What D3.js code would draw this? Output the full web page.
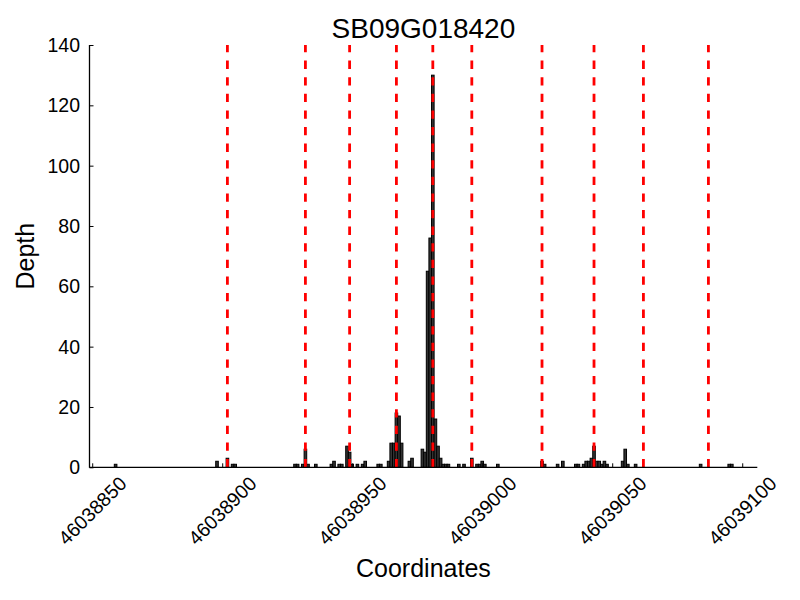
<html>
<script src='https://d3js.org/d3.v7.min.js'></script>
<style> body {margin:0;} text {font-family: "Liberation Sans", Arial, sans-serif;} </style>
<body>
<svg width=800 height=600>
</svg>
<script>
var coords = [46038859,46038898,46038902,46038904,46038905,46038928,46038929,46038931,46038932,46038933,
	46038936,46038942,46038943,46038945,46038946,46038948,46038949,46038950,46038952,46038954,
	46038955,46038960,46038961,46038964,46038965,46038966,46038967,46038968,46038969,46038972,
	46038973,46038977,46038978,46038979,46038980,46038981,46038982,46038983,46038984,46038985,
	46038986,46038987,46038991,46038993,46038996,46038998,46038999,46039000,46039001,46039006,
	46039023,46039024,46039029,46039031,46039036,46039037,46039039,46039040,46039041,46039042,
	46039043,46039044,46039045,46039046,46039047,46039048,46039054,46039055,46039056,46039059,
	46039084,46039095,46039096];
var depth = [1,2,3,1,1,1,1,1,6,1,
	1,1,2,1,1,7,5,1,1,1,
	2,1,1,2,8,8,18,17,8,2,
	3,6,5,65,76,130,16,7,3,1,
	1,1,1,1,3,1,1,2,1,1,
	2,1,1,2,1,1,1,2,2,3,
	7,2,2,1,2,1,2,6,1,1,
	1,1,1];
var markers = [46038902,46038932,46038949,46038967,46038981,46038996,46039023,46039043,46039062,46039087];
var xTicks = [46038850,46038900,46038950,46039000,46039050,46039100];
var yTicks = [0,20,40,60,80,100,120,140];

var plotL = 89.5, plotR = 757.3, plotT = 45, plotB = 467.3;
var x = d3.scaleLinear().domain([46038848.96, 46039105.8]).range([plotL, plotR]);
var y = d3.scaleLinear().domain([0, 140]).range([plotB, plotT]);
var svg = d3.select("svg");

// bars, centered on each coordinate
svg.append("g").selectAll("rect").data(coords).enter().append("rect")
	.attr("x", function(d){return x(d - 0.5);})
	.attr("width", function(d){return x(d + 0.5) - x(d - 0.5);})
	.attr("y", function(d, i){return y(depth[i]);})
	.attr("height", function(d, i){return plotB - y(depth[i]);})
	.attr("fill", "#333").attr("stroke", "#000").attr("stroke-width", 1);

// red dashed lines on top, dash pattern starts at the bottom
svg.append("g").selectAll("line").data(markers).enter().append("line")
	.attr("x1", function(d){return x(d);}).attr("x2", function(d){return x(d);})
	.attr("y1", plotB).attr("y2", plotT)
	.attr("stroke", "red").attr("stroke-width", 2.8).attr("stroke-dasharray", "8.3,8.3");

// axes: ticks point inward
var yAxis = d3.axisRight(y).tickValues(yTicks).tickSize(4).tickFormat("");
svg.append("g").attr("transform", "translate(" + plotL + ",0)").call(yAxis)
	.call(function(g){g.select(".domain").remove();});
var xAxis = d3.axisTop(x).tickValues(xTicks).tickSize(4).tickFormat("");
svg.append("g").attr("transform", "translate(0," + plotB + ")").call(xAxis)
	.call(function(g){g.select(".domain").remove();});
svg.selectAll(".tick line").attr("stroke", "#000").attr("stroke-width", 1);

svg.append("line").attr("x1", plotL).attr("x2", plotL).attr("y1", plotT).attr("y2", plotB + 0.5)
	.attr("stroke", "#000").attr("stroke-width", 1.3);
svg.append("line").attr("x1", plotL).attr("x2", plotR).attr("y1", plotB).attr("y2", plotB)
	.attr("stroke", "#000").attr("stroke-width", 1.3);

// tick labels
svg.append("g").selectAll("text").data(yTicks).enter().append("text")
	.attr("x", 80).attr("y", function(d){return y(d);})
	.attr("dy", "0.36em").attr("text-anchor", "end").style("font-size", "19.5px")
	.text(function(d){return d;});

svg.append("g").selectAll("text").data(xTicks).enter().append("text")
	.attr("text-anchor", "middle").attr("dy", "0.36em").style("font-size", "19.5px")
	.text(function(d){return d;})
	.attr("transform", function(d){
		var b = this.getBBox();
		var w = (b.width + 19.5) / Math.SQRT2;
		return "translate(" + x(d) + "," + (473 + w / 2) + ") rotate(-45)";
	});

svg.append("text").attr("x", (plotL + plotR) / 2).attr("y", 577).attr("text-anchor", "middle")
	.style("font-size", "25px").text("Coordinates");
svg.append("text").attr("transform", "translate(34," + ((plotT + plotB) / 2) + ") rotate(-90)")
	.attr("text-anchor", "middle").style("font-size", "25px").text("Depth");
svg.append("text").attr("x", (plotL + plotR) / 2).attr("y", 38).attr("text-anchor", "middle")
	.style("font-size", "28px").text("SB09G018420");
</script>
</body>
</html>
